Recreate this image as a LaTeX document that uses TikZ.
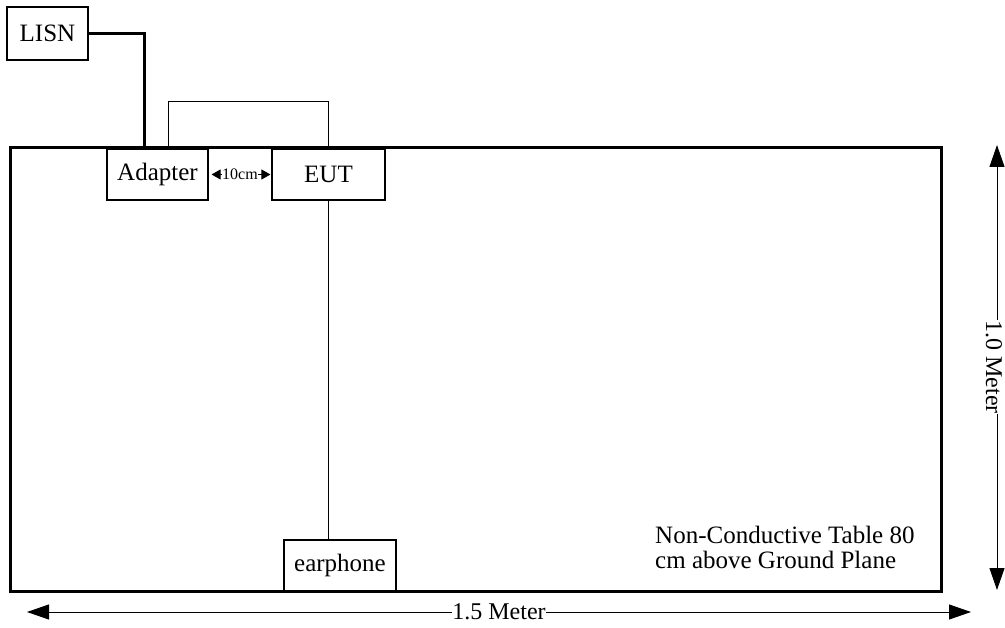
\documentclass[tikz,border=0pt]{standalone}
\usepackage{fontspec}
\setmainfont{Liberation Serif}
\usetikzlibrary{arrows.meta}
\begin{document}
\begin{tikzpicture}[x=1pt,y=-1pt,
  box/.style={draw, line width=1.2pt, inner sep=0pt, font=\fontsize{25}{26}\selectfont},
  thick line/.style={line width=3pt},
  thin line/.style={line width=1pt},
  dim/.style={line width=1pt, {Triangle[length=22pt,width=15pt]}-{Triangle[length=22pt,width=15pt]}},
  lbl/.style={fill=white, inner sep=0.5pt, font=\fontsize{24}{26}\selectfont}]
\useasboundingbox (0,0) rectangle (1005,628);
\node[draw, line width=3pt, minimum width=931pt, minimum height=443pt, inner sep=0pt] (table) at (475.5,369.5) {};
\node[box, minimum width=81pt, minimum height=53pt] (lisn) at (47.5,33.5) {LISN};
\node[box, minimum width=101pt, minimum height=51pt] (adapter) at (157.5,174.5) {Adapter};
\node[box, minimum width=113pt, minimum height=51pt] (eut) at (328.5,174.5) {EUT};
\node[box, minimum width=112pt, minimum height=51pt] (earphone) at (340,565.5) {earphone};
\coordinate (plug) at (144,148);
\coordinate (link) at (168,148);
\draw[thick line] (lisn.east) -| (plug);
\draw[thin line] (link) -- ++(0,-46) -| (eut.north);
\draw[thin line] (eut.south) -- (eut.south |- earphone.north);
\draw[line width=0.8pt, {Triangle[length=9pt,width=10pt]}-{Triangle[length=9pt,width=10pt]}, shorten <=3pt, shorten >=1pt] (adapter.east) -- node[fill=white, inner sep=0pt, font=\fontsize{16}{17}\selectfont] (tencm) {10cm} (eut.west);
\node[anchor=base west, align=left, inner sep=0pt, font=\fontsize{25}{25}\selectfont] (note) at (655,568) {Non-Conductive Table 80\\cm above Ground Plane};
\coordinate (vt) at (997,145);
\coordinate (vb) at (997,590);
\coordinate (hl) at (27,612);
\coordinate (hr) at (971,612);
\draw[dim] (vt) -- (vb);
\node[lbl, rotate=-90] (vlab) at (994,367) {1.0 Meter};
\draw[dim] (hl) -- node[lbl, pos=0.5] (hlab) {1.5 Meter} (hr);
\end{tikzpicture}
\end{document}
